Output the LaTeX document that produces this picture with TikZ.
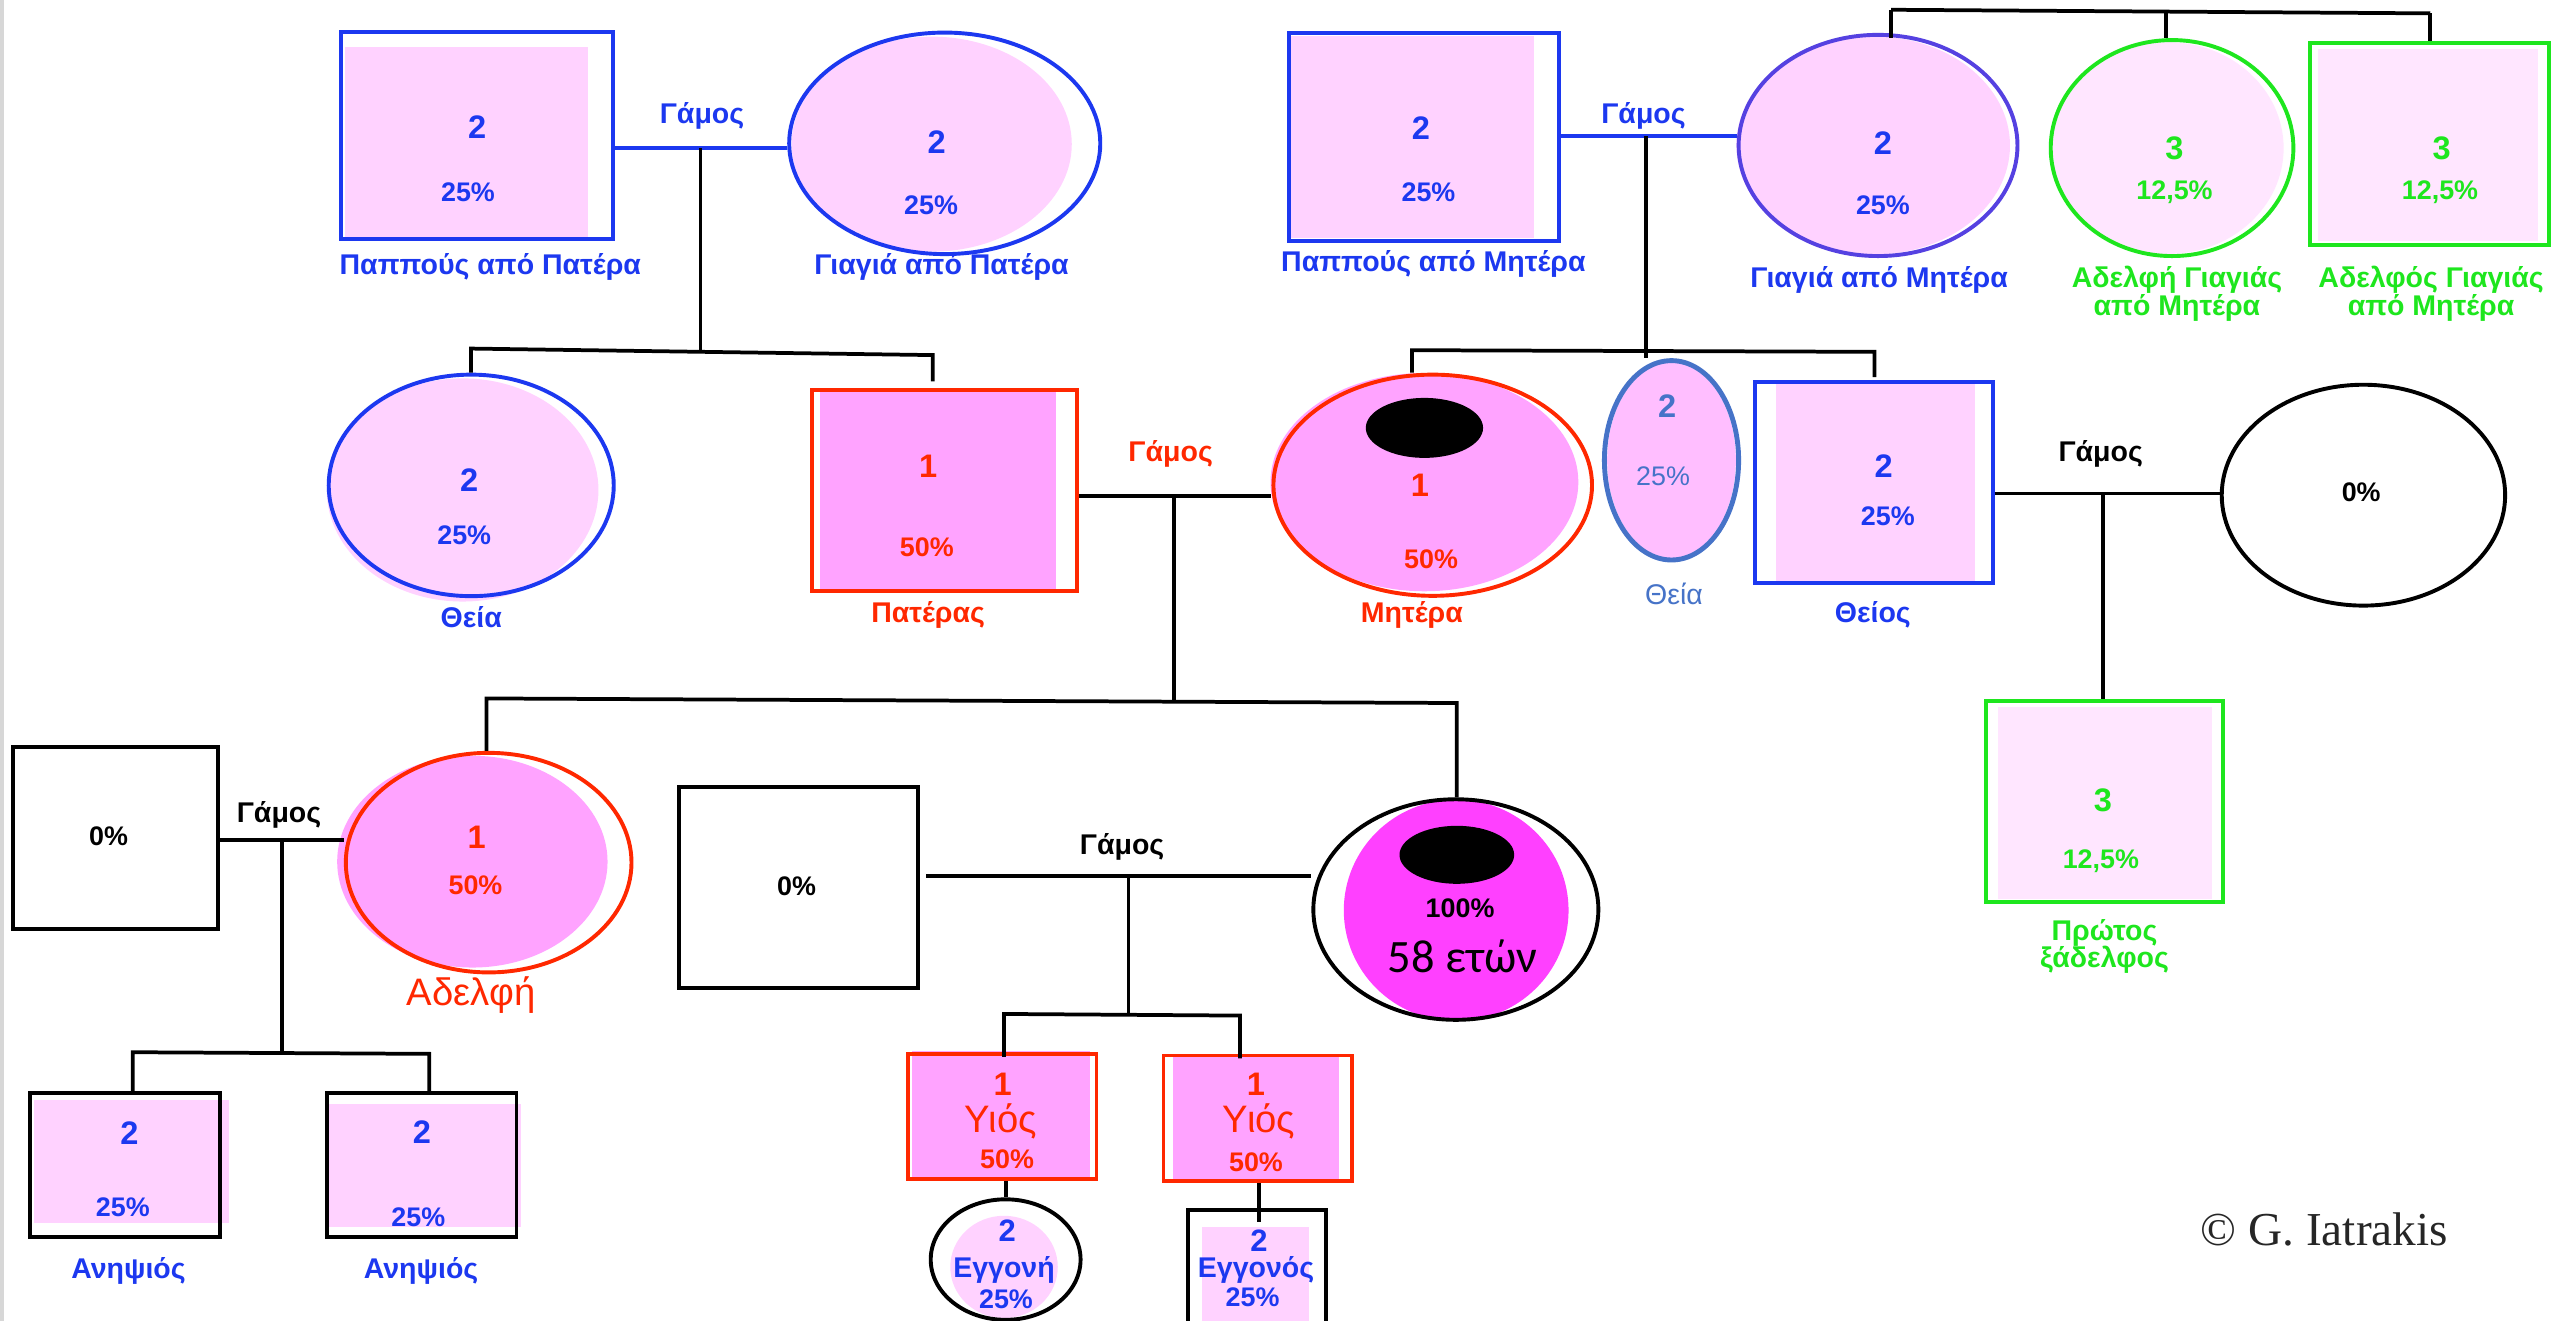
\documentclass[tikz,border=0pt]{standalone}
\usepackage{fontspec}
\setmainfont{Liberation Sans}
\newfontfamily\calfont{Carlito}
\newfontfamily\serffont{Liberation Serif}
\usetikzlibrary{shapes.geometric}

\definecolor{cblue}{RGB}{28,56,240}
\definecolor{cpurp}{RGB}{85,65,225}
\definecolor{cred}{RGB}{255,40,0}
\definecolor{cgreen}{RGB}{30,230,30}
\definecolor{pinkA}{RGB}{255,210,255}
\definecolor{pinkB}{RGB}{255,163,255}
\definecolor{pinkC}{RGB}{255,230,255}
\definecolor{pinkD}{RGB}{255,190,255}
\definecolor{magen}{RGB}{255,64,255}
\definecolor{steel}{RGB}{70,115,200}
\definecolor{edgegray}{RGB}{215,215,215}

\tikzset{
  person/.style={draw, line width=2.4pt, inner sep=0pt},
  boxp/.style={person, rectangle},
  ovalp/.style={person, ellipse},
  dims/.style 2 args={minimum width=#1pt, minimum height=#2pt},
  link/.style={line width=2.3pt},
  txt/.style={inner sep=0pt},
  digit/.style={txt, font=\bfseries\fontsize{20}{24}\selectfont},
  pct/.style={txt, font=\bfseries\fontsize{16.5}{19}\selectfont},
  lab/.style={txt, font=\bfseries\fontsize{17.5}{17}\selectfont, align=center},
  marr/.style={txt, font=\bfseries\fontsize{17.5}{21}\selectfont},
  plainlab/.style={txt, font=\fontsize{23.5}{26}\selectfont},
}

\begin{document}
\begin{tikzpicture}[x=1pt,y=-1pt]
\useasboundingbox (0,0) rectangle (1568,811);
\clip (0,0) rectangle (1568,811);
\fill[white] (0,0) rectangle (1568,811);
\fill[edgegray] (0,0) rectangle (2.5,811);

% ---------- paternal grandparents ----------
\fill[pinkA] (212,29) rectangle (361,147);
\node[boxp, dims={167}{127}, draw=cblue] (gfp) at (292.9,83.3) {};
\node[digit, text=cblue] (gfpN) at (293,78) {2};
\node[pct, text=cblue] (gfpP) at (287.3,118.3) {25\%};
\node[lab, text=cblue] (gfpL) at (301,164) {Παππούς από Πατέρα};

\fill[pinkA] (572,88.5) ellipse [x radius=86pt, y radius=66pt];
\node[ovalp, dims={191}{136}, draw=cblue] (gmp) at (580,88) {};
\node[digit, text=cblue] (gmpN) at (575,87) {2};
\node[pct, text=cblue] (gmpP) at (571.6,126) {25\%};
\node[lab, text=cblue] (gmpL) at (578,164) {Γιαγιά από Πατέρα};

\node[marr, text=cblue] (mpL) at (431,71) {Γάμος};
\coordinate (mp) at (430,91);
\draw[link, cblue] (gfp.east |- mp) -- (mp -| gmp.west);

% ---------- paternal aunt and father ----------
\fill[pinkA] (284,300.8) ellipse [x radius=83.4pt, y radius=68.5pt];
\node[ovalp, dims={175}{136}, draw=cblue] (thp) at (289.3,298) {};
\node[digit, text=cblue] (thpN) at (288,294.7) {2};
\node[pct, text=cblue] (thpP) at (285,328.5) {25\%};
\node[lab, text=cblue] (thpL) at (289.3,378.6) {Θεία};

\fill[pinkB] (503.3,239.4) rectangle (648.2,362.8);
\node[boxp, dims={162.5}{123.4}, draw=cred] (pat) at (579.75,301.1) {};
\node[digit, text=cred] (patN) at (569.8,286.5) {1};
\node[pct, text=cred] (patP) at (569,336) {50\%};
\node[lab, text=cred] (patL) at (569.8,377.6) {Πατέρας};

\coordinate (sP) at (430,216);
\coordinate (sPl) at (289.2,214);
\coordinate (sPr) at (572.6,218);
\draw[link] (mp) -- (sP);
\draw[link] (sPl |- thp.north) -- (sPl) -- (sPr) -- ([yshift=4pt]sPr |- pat.north);

% ---------- parents ----------
\fill[pinkB] (874.5,296) ellipse [x radius=94.5pt, y radius=67pt];
\node[ovalp, dims={195.6}{135.8}, draw=cred] (mot) at (879.6,297.9) {};
\fill[black] (874.5,262.7) ellipse [x radius=36pt, y radius=18.4pt];
\node[digit, text=cred] (motN) at (871.8,297.8) {1};
\node[pct, text=cred] (motP) at (878.6,343.2) {50\%};
\node[lab, text=cred] (motL) at (866.8,377.3) {Μητέρα};

\node[marr, text=cred] (mpaL) at (718.7,278.7) {Γάμος};
\coordinate (mpa) at (720.7,304.5);
\draw[link] (pat.east |- mpa) -- (mpa -| mot.west);

% ---------- maternal grandparents ----------
\fill[pinkA] (791.4,22) rectangle (941.8,146);
\node[boxp, dims={165.6}{127.3}, draw=cblue] (gfm) at (874.2,84.15) {};
\node[digit, text=cblue] (gfmN) at (872.4,78.8) {2};
\node[pct, text=cblue] (gfmP) at (877,118.3) {25\%};
\node[lab, text=cblue] (gfmL) at (880,162) {Παππούς από Μητέρα};

\fill[pinkA] (1150,89.3) ellipse [x radius=84pt, y radius=67pt];
\node[ovalp, dims={171.2}{135.8}, draw=cpurp] (mgm) at (1153,89.3) {};
\node[digit, text=cblue] (mgmN) at (1156,88) {2};
\node[pct, text=cblue] (mgmP) at (1156,125.9) {25\%};
\node[lab, text=cblue] (mgmL) at (1153.6,171.9) {Γιαγιά από Μητέρα};

\node[marr, text=cblue] (mmL) at (1009,71.2) {Γάμος};
\coordinate (mm) at (1010.6,83.5);
\draw[link, cblue] (gfm.east |- mm) -- (mm -| mgm.west);

% grandmother's siblings
\fill[pinkC] (1331,90.9) ellipse [x radius=71pt, y radius=65pt];
\node[ovalp, dims={149}{132.6}, draw=cgreen] (sis) at (1333.5,90.9) {};
\node[digit, text=cgreen] (sisN) at (1335,91) {3};
\node[pct, text=cgreen] (sisP) at (1335,118.3) {12,5\%};
\node[lab, text=cgreen] (sisL) at (1336.5,180.3) {Αδελφή Γιαγιάς\\από Μητέρα};

\fill[pinkC] (1423,30) rectangle (1558,148);
\node[boxp, dims={147}{123.8}, draw=cgreen] (bro) at (1491.5,88.5) {};
\node[digit, text=cgreen] (broN) at (1499,91) {3};
\node[pct, text=cgreen] (broP) at (1498,118.3) {12,5\%};
\node[lab, text=cgreen] (broL) at (1492.5,180.3) {Αδελφός Γιαγιάς\\από Μητέρα};

\coordinate (tl) at (1161,6);
\coordinate (tm) at (1330,7.1);
\coordinate (tr) at (1492,8.2);
\draw[link] (tl) -- (tr);
\draw[link] (tl) -- ([yshift=-3pt]tl |- mgm.north);
\draw[link] (tm) -- (tm |- sis.north);
\draw[link] (tr) -- (tr |- bro.north);

% ---------- mother's siblings ----------
\fill[pinkD] (1026.2,282.6) ellipse [x radius=39.5pt, y radius=60pt];
\node[ovalp, dims={82.4}{122.4}, draw=steel, line width=3pt] (tha) at (1026.2,282.6) {};
\node[digit, text=steel] (thaN) at (1023.6,249.3) {2};
\node[txt, text=steel, font=\fontsize{16.5}{19}\selectfont] (thaP) at (1021,292.6) {25\%};
\node[txt, text=steel, font=\fontsize{17.5}{21}\selectfont] (thaL) at (1027.7,364.9) {Θεία};

\fill[pinkA] (1090.6,234.7) rectangle (1212.5,357.9);
\node[boxp, dims={145.6}{123.2}, draw=cblue] (thu) at (1150.5,296.3) {};
\node[digit, text=cblue] (thuN) at (1156.5,286.4) {2};
\node[pct, text=cblue] (thuP) at (1159,317.2) {25\%};
\node[lab, text=cblue] (thuL) at (1149.8,377.3) {Θείος};

\coordinate (sMl) at (866.8,215);
\coordinate (sMr) at (1150.8,216);
\draw[link] (mm) -- (mm |- tha.north);
\draw[link] (sMl |- mot.north) -- (sMl) -- (sMr) -- ([yshift=2pt]sMr |- thu.north);

% uncle's family
\node[ovalp, dims={174}{135.6}, draw=black] (wif) at (1451,304) {};
\node[pct] (wifP) at (1449.6,302.5) {0\%};

\node[marr] (muL) at (1289.7,278.6) {Γάμος};
\coordinate (mu) at (1291.2,303);
\draw[link] (thu.east |- mu) -- (mu -| wif.west);

\fill[pinkC] (1226.8,434) rectangle (1358,552);
\node[boxp, dims={146}{123.4}, draw=cgreen] (cou) at (1292,492.1) {};
\node[digit, text=cgreen] (couN) at (1291,491.6) {3};
\node[pct, text=cgreen] (couP) at (1289.8,528.6) {12,5\%};
\node[lab, text=cgreen] (couL) at (1292,581) {Πρώτος\\ξάδελφος};
\draw[link] (mu) -- (mu |- cou.north);

% ---------- children of the parents ----------
\coordinate (sC) at (720.7,430.5);
\coordinate (sCl) at (298.7,428.8);
\coordinate (sCr) at (894.4,431.6);
\draw[link] (mpa) -- (sC);

% sister and her family
\node[boxp, dims={125.5}{112.2}, draw=black] (hus) at (70.95,514.5) {};
\node[pct] (husP) at (66.6,513.6) {0\%};

\fill[pinkB] (290,529) ellipse [x radius=83pt, y radius=65pt];
\node[ovalp, dims={175.4}{134.8}, draw=cred] (ade) at (300,529.6) {};
\node[digit, text=cred] (adeN) at (292.7,514) {1};
\node[pct, text=cred] (adeP) at (291.9,543.7) {50\%};
\node[plainlab, text=cred] (adeL) at (289.2,610.8) {Αδελφή};

\node[marr] (maL) at (171.3,500.4) {Γάμος};
\coordinate (ma) at (173.2,515.5);
\draw[link] (hus.east |- ma) -- (ma -| ade.west);

\fill[pinkA] (20.6,675.4) rectangle (140.6,750.8);
\node[boxp, dims={116.2}{88.3}, draw=black] (nep1) at (76.7,715.15) {};
\node[digit, text=cblue] (nep1N) at (79.5,695.6) {2};
\node[pct, text=cblue] (nep1P) at (75.4,741) {25\%};
\node[lab, text=cblue] (nep1L) at (78.9,780.2) {Ανηψιός};

\fill[pinkA] (199.5,678) rectangle (319.9,753.3);
\node[boxp, dims={116.5}{88.3}, draw=black] (nep2) at (258.85,715.15) {};
\node[digit, text=cblue] (nep2N) at (259,695) {2};
\node[pct, text=cblue] (nep2P) at (256.8,747) {25\%};
\node[lab, text=cblue] (nep2L) at (258.5,780.2) {Ανηψιός};

\coordinate (sN) at (173.2,646.5);
\coordinate (sNl) at (81.5,646);
\coordinate (sNr) at (263.6,647);
\draw[link] (ma) -- (sN);
\draw[link] (sNl |- nep1.north) -- (sNl) -- (sNr) -- (sNr |- nep2.north);

% proband and her family
\node[boxp, dims={146.8}{123.3}, draw=black] (spo) at (490.1,545) {};
\node[pct] (spoP) at (489,544.2) {0\%};

\fill[magen] (894,558.9) ellipse [x radius=69pt, y radius=68pt];
\node[ovalp, dims={175}{135.4}, draw=black] (pro) at (893.8,558.4) {};
\fill[black] (894.4,524.8) ellipse [x radius=35.2pt, y radius=17.8pt];
\node[pct] (proP) at (896.4,557.8) {100\%};
\node[txt, font=\calfont\fontsize{28.5}{30}\selectfont] (proA) at (898,587.4) {58 ετών};

\draw[link] (sCl |- ade.north) -- (sCl) -- (sCr) -- (sCr |- pro.north);

\node[marr] (mprL) at (688.9,519.8) {Γάμος};
\coordinate (mpr) at (692.8,537.8);
\draw[link] ([xshift=4pt]spo.east |- mpr) -- (mpr -| pro.west);

\fill[pinkB] (559.6,645) rectangle (669.2,722.7);
\node[boxp, dims={115.6}{76.7}, draw=cred] (son1) at (615.4,685.45) {};
\node[digit, text=cred] (son1N) at (615.6,665.9) {1};
\node[plainlab, text=cred] (son1L) at (614.4,688.5) {Υιός};
\node[pct, text=cred] (son1P) at (618.3,712) {50\%};

\fill[pinkB] (720.2,647) rectangle (822,726);
\node[boxp, dims={115.5}{77}, draw=cred] (son2) at (772.05,686.5) {};
\node[digit, text=cred] (son2N) at (771.1,665.9) {1};
\node[plainlab, text=cred] (son2L) at (773,688.5) {Υιός};
\node[pct, text=cred] (son2P) at (771.1,713.6) {50\%};

\coordinate (sS) at (692.8,622.8);
\coordinate (sSl) at (616.4,622.5);
\coordinate (sSr) at (761.3,623.5);
\draw[link] (mpr) -- (sS);
\draw[link] ([yshift=-3pt]sSl |- son1.north) -- (sSl) -- (sSr) -- ([yshift=-3pt]sSr |- son2.north);

% grandchildren
\fill[pinkA] (616.4,777.8) ellipse [x radius=33pt, y radius=31.4pt];
\node[ovalp, dims={92}{74}, draw=black] (gd) at (617.4,773.3) {};
\node[txt, text=cblue, font=\bfseries\fontsize{19}{22}\selectfont] (gdN) at (618.3,755.7) {2};
\node[lab, text=cblue] (gdL) at (616.4,779.6) {Εγγονή};
\node[pct, text=cblue] (gdP) at (617.6,797.8) {25\%};
\draw[link] (son1.south -| gd.north) -- (gd.north);

\fill[pinkA] (737.8,753) rectangle (803.5,811);
\node[boxp, dims={84.9}{94.4}, draw=black] (gs) at (771.65,790) {};
\node[txt, text=cblue, font=\bfseries\fontsize{19}{22}\selectfont] (gsN) at (773,761.4) {2};
\node[lab, text=cblue] (gsL) at (771.1,779.6) {Εγγονός};
\node[pct, text=cblue] (gsP) at (769,796.6) {25\%};
\coordinate (gsTop) at (773,750);
\draw[link] (son2.south -| gsTop) -- (gsTop);

% signature
\node[txt, text=black!85, font=\serffont\fontsize{29}{32}\selectfont] (sig) at (1427,755) {© G. Iatrakis};
\end{tikzpicture}
\end{document}
